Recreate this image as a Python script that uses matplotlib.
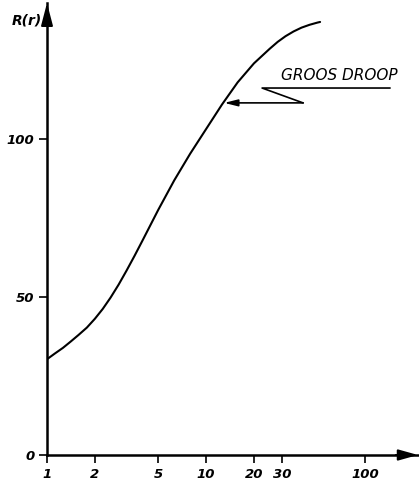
import matplotlib
matplotlib.use("Agg")
import matplotlib.pyplot as plt

# Response curve R(r) against r (log axis)
r_vals = [1.0, 1.12, 1.26, 1.41, 1.58, 1.78, 2.0, 2.24, 2.51, 2.82, 3.16,
          3.55, 3.98, 5.01, 6.31, 7.94, 10.0, 12.6, 15.8, 20.0, 25.1,
          28.2, 31.6, 35.5, 39.8, 44.7, 50.1, 52.1]
R_vals = [30.3, 32.1, 33.9, 35.9, 38.0, 40.3, 43.1, 46.2, 49.8, 53.9, 58.3,
          63.0, 67.8, 77.6, 86.9, 95.3, 103.1, 110.9, 117.9, 123.9, 128.5,
          130.7, 132.5, 134.0, 135.2, 136.1, 136.8, 137.0]

x_ticks = [1, 2, 5, 10, 20, 30, 100]
x_tick_labels = ["1", "2", "5", "10", "20", "30", "100"]
y_ticks = [0, 50, 100]
y_tick_labels = ["0", "50", "100"]

y_label = "R(r)"
note_text = "GROOS DROOP"

fig = plt.figure(figsize=(4.19, 4.88), dpi=100)
ax = fig.add_axes([47 / 419, 33 / 488, 371 / 419, 452 / 488])

ax.set_xscale("log")
ax.set_xlim(1, 215)
ax.set_ylim(0, 143)

ax.plot(r_vals, R_vals, color="black", lw=1.5, solid_capstyle="round",
        solid_joinstyle="round")

for side in ("top", "right"):
    ax.spines[side].set_visible(False)
for side in ("left", "bottom"):
    ax.spines[side].set_linewidth(1.8)

tick_font = dict(style="italic", weight="bold", size=9.5)
ax.set_xticks(x_ticks)
ax.set_xticklabels(x_tick_labels, **tick_font)
ax.xaxis.set_minor_locator(matplotlib.ticker.NullLocator())
ax.set_yticks(y_ticks)
ax.set_yticklabels(y_tick_labels, **tick_font)
ax.tick_params(axis="both", direction="out", length=6, width=1.2, pad=3)

# Arrowheads on the axes
arrow = dict(arrowstyle="-|>,head_length=1.0,head_width=0.28", color="black",
             lw=1.4, mutation_scale=12, shrinkA=0, shrinkB=0)
ax.annotate("", xy=(1.0, 0), xytext=(0.94, 0), xycoords="axes fraction",
            textcoords="axes fraction", arrowprops=arrow, annotation_clip=False)
arrow_y = dict(arrow, arrowstyle="-|>,head_length=1.15,head_width=0.3")
ax.annotate("", xy=(0, 1.0), xytext=(0, 0.95), xycoords="axes fraction",
            textcoords="axes fraction", arrowprops=arrow_y, annotation_clip=False)

fig.text(42 / 419, 1 - 20 / 488, y_label, ha="right", va="center",
         style="italic", weight="bold", size=10)

# Callout: underlined label with a zigzag leader to the curve
ax.text(29.6, 117.6, note_text, ha="left", va="bottom", style="italic", size=11)
ax.plot([143.0, 22.5, 40.7], [116.1, 116.1, 111.4], color="black", lw=1.2,
        clip_on=False)
ax.annotate("", xy=(13.0, 111.4), xytext=(40.7, 111.4),
            arrowprops=dict(arrowstyle="-|>,head_length=0.8,head_width=0.2",
                            color="black", lw=1.2, mutation_scale=10,
                            shrinkA=0, shrinkB=0))

fig.savefig("out.png", dpi=100, facecolor="white")
